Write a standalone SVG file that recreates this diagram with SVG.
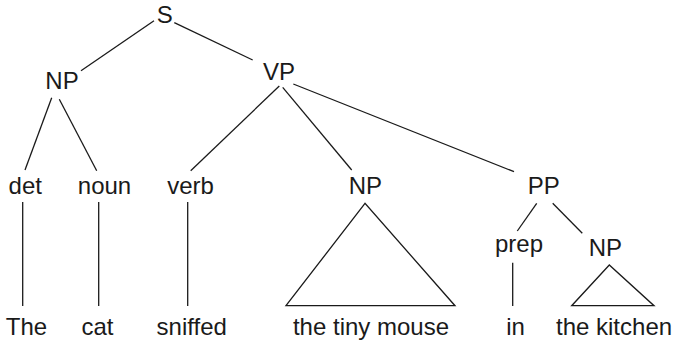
<svg xmlns="http://www.w3.org/2000/svg" width="677" height="343" viewBox="0 0 677 343">
<style>
text{font-family:"Liberation Sans",Arial,sans-serif;font-size:24px;fill:#1a1a1a;text-anchor:middle}
.e line,.e polygon{stroke:#1a1a1a;stroke-width:1.3;fill:none}
</style>
<rect width="677" height="343" fill="#fff"/>
<g class="e" id="connectors">
<line x1="81" y1="70.7" x2="154" y2="20.7"/>
<line x1="174.3" y1="22.7" x2="252.7" y2="60"/>
<line x1="51.7" y1="97.7" x2="25" y2="170"/>
<line x1="59.3" y1="99.3" x2="96.7" y2="170.7"/>
<line x1="279.3" y1="86" x2="190.7" y2="170.7"/>
<line x1="282.7" y1="87.3" x2="351.7" y2="170"/>
<line x1="293.3" y1="84" x2="514" y2="171.7"/>
<line x1="22.7" y1="202" x2="22.7" y2="306"/>
<line x1="98.7" y1="202" x2="98.7" y2="306"/>
<line x1="187.7" y1="202" x2="187.7" y2="306"/>
<polygon points="365,203.3 286,305.7 455,305.7"/>
<line x1="536.7" y1="203.3" x2="517.3" y2="231"/>
<line x1="552.7" y1="203.3" x2="582.3" y2="233.3"/>
<line x1="512.7" y1="262.7" x2="512.7" y2="306"/>
<polygon points="609.3,265 571.7,305.7 654,305.7"/>
</g>
<g id="S"><text x="164.7" y="22.7">S</text></g>
<g id="NP1"><text x="62" y="89">NP</text></g>
<g id="VP"><text x="279" y="80">VP</text></g>
<g id="det"><text x="25.3" y="194">det</text></g>
<g id="noun"><text x="104.5" y="194">noun</text></g>
<g id="verb"><text x="190.5" y="194">verb</text></g>
<g id="NP2"><text x="365.3" y="194">NP</text></g>
<g id="PP"><text x="543.7" y="194">PP</text></g>
<g id="prep"><text x="519" y="252">prep</text></g>
<g id="NP3"><text x="605.3" y="256">NP</text></g>
<g id="The"><text x="26.5" y="335">The</text></g>
<g id="cat"><text x="97.5" y="335">cat</text></g>
<g id="sniffed"><text x="191.7" y="335">sniffed</text></g>
<g id="mouse"><text x="371" y="335">the tiny mouse</text></g>
<g id="in"><text x="515.5" y="335">in</text></g>
<g id="kitchen"><text x="556" y="335" style="text-anchor:start">the kitchen</text></g>
</svg>
